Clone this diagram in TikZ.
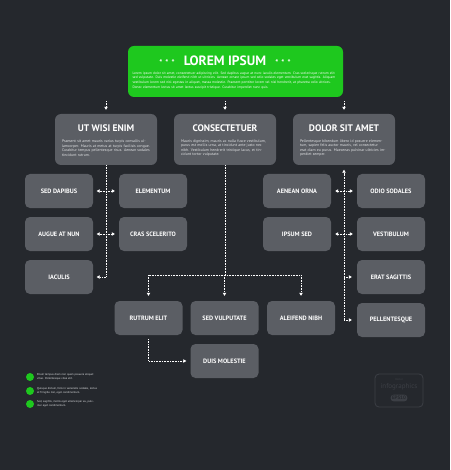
\documentclass[tikz,border=0pt]{standalone}
\usepackage{fontspec}
\setmainfont{PT Sans}
\usetikzlibrary{arrows.meta}
\definecolor{bgdark}{HTML}{25282D}
\definecolor{boxgray}{HTML}{5B5E64}
\definecolor{leafgreen}{HTML}{1EC81E}
\definecolor{bodygray}{HTML}{E4E5E7}
\definecolor{badgegray}{HTML}{3C3F45}
\begin{document}
\begin{tikzpicture}[x=1pt,y=-1pt,
  topbox/.style={fill=leafgreen,rounded corners=6pt,minimum width=215pt,minimum height=51pt,inner sep=0pt},
  bigbox/.style={fill=boxgray,rounded corners=6pt,minimum width=102pt,minimum height=51pt,inner sep=0pt},
  box/.style={fill=boxgray,rounded corners=5pt,minimum width=68pt,minimum height=34pt,inner sep=0pt,
    text=white,font=\bfseries\fontsize{6.3}{7}\selectfont},
  head/.style={text=white,inner sep=0pt,font=\bfseries\fontsize{9.5}{10}\selectfont},
  body/.style={text=bodygray,inner sep=0pt,align=left,font=\fontsize{3.8}{4.6}\selectfont},
  note/.style={text=bodygray,inner sep=0pt,align=left,anchor=west,text width=60pt,font=\fontsize{2.8}{3.5}\selectfont},
  stars/.style={inner sep=0pt,text=white,font=\bfseries\fontsize{8}{8}\selectfont},
  conn/.style={white,line width=0.8pt,dash pattern=on 0.8pt off 0.8pt},
  tip/.style={-{Triangle[width=3.4pt,length=3pt]}},
  tips/.style={{Triangle[width=3.4pt,length=3pt]}-{Triangle[width=3.4pt,length=3pt]}}]
  \fill[bgdark] (0,0) rectangle (450,470);

  \node[topbox] (lorem) at (235.5,71.5) {};
  \node[text=white,inner sep=0pt,font=\bfseries\fontsize{13.5}{14}\selectfont] (title) at (225,61) {LOREM IPSUM};
  \node[stars] (starl) at (167,62.5) {*\hspace{3pt}*\hspace{3pt}*};
  \node[stars] (starr) at (283,62.5) {*\hspace{3pt}*\hspace{3pt}*};
  \node[body,text=white,text width=206pt,font=\fontsize{3.5}{4.8}\selectfont] (intro) at (235.5,80.5)
    {Lorem ipsum dolor sit amet, consectetuer adipiscing elit. Sed dapibus augue at nunc iaculis elementum. Cras scelerisque rutrum elit sed vulputate. Duis molestie eleifend nibh ut ultricies. Aenean ornare ipsum sed odio sodales eget vestibulum erat sagittis. Aliquam vestibulum lorem sed nisl egestas in aliquet, massa molestie. Praesent porttitor lorem vel nisl hendrerit, at pharetra odio ultrices. Donec elementum lectus sit amet lectus suscipit tristique. Curabitur imperdiet nunc quis.};

  \node[bigbox] (ut) at (106,139.5) {};
  \node[bigbox] (cons) at (225,139.5) {};
  \node[bigbox] (dolor) at (344,139.5) {};
  \node[head] at (106,128) {UT WISI ENIM};
  \node[head] at (225,128) {CONSECTETUER};
  \node[head] at (344,128) {DOLOR SIT AMET};
  \node[body,text width=88pt] at (106,148)
    {Praesent sit amet mauris varius turpis convallis ullamcorper. Mauris at metus at turpis facilisis congue. Curabitur tempus pellentesque risus. Aenean sodales tincidunt rutrum.};
  \node[body,text width=88pt] at (225,148)
    {Mauris dignissim, mauris ac nulla fusce vestibulum, purus est mollis urna, at tincidunt ante justo nec nibh. Vestibulum hendrerit tristique lacus, et tincidunt tortor vulputate.};
  \node[body,text width=88pt] at (344,148)
    {Pellentesque bibendum libero id posuere elementum, sapien felis auctor mauris, vel consectetur erat diam eu purus. Maecenas pulvinar ultricies imperdiet semper.};

  \node[box] (sed) at (59,191) {SED DAPIBUS};
  \node[box] (aug) at (59,234) {AUGUE AT NUN};
  \node[box] (iac) at (59,277) {IACULIS};
  \node[box] (elem) at (153,191) {ELEMENTUM};
  \node[box] (cras) at (153,234) {CRAS SCELERITO};
  \node[box] (aen) at (297,191) {AENEAN ORNA};
  \node[box] (ips) at (297,234) {IPSUM SED};
  \node[box] (odio) at (391,191) {ODIO SODALES};
  \node[box] (vest) at (391,234) {VESTIBULUM};
  \node[box] (erat) at (391,277) {ERAT SAGITTIS};
  \node[box] (pel) at (391,320) {PELLENTESQUE};
  \node[box] (rut) at (148.5,318) {RUTRUM ELIT};
  \node[box] (vul) at (224.5,318) {SED VULPUTATE};
  \node[box] (ale) at (301,318) {ALEIFEND NIBH};
  \node[box] (duis) at (224.5,361) {DUIS MOLESTIE};

  \draw[conn,tip,shorten <=4pt,shorten >=4pt] (lorem.south -| ut) -- (ut.north);
  \draw[conn,tip,shorten <=4pt,shorten >=4pt] (lorem.south -| cons) -- (cons.north);
  \draw[conn,tip,shorten <=4pt,shorten >=4pt] (lorem.south -| dolor) -- (dolor.north);

  \draw[conn] (ut.south) -- (ut.south |- iac.east);
  \draw[conn,tips,shorten <=3.5pt,shorten >=4pt] (sed.east) -- (elem.west);
  \draw[conn,tips,shorten <=3.5pt,shorten >=4pt] (aug.east) -- (cras.west);
  \draw[conn,tip,shorten >=3.5pt] (ut.south |- iac.east) -- (iac.east);

  \draw[conn,tip,shorten >=4.5pt] (dolor.south |- pel.west) -- (dolor.south);
  \draw[conn,tips,shorten <=4pt,shorten >=4pt] (aen.east) -- (odio.west);
  \draw[conn,tips,shorten <=4pt,shorten >=4pt] (ips.east) -- (vest.west);
  \draw[conn,tip,shorten >=5pt] (dolor.south |- erat.west) -- (erat.west);
  \draw[conn,tip,shorten >=5pt] (dolor.south |- pel.west) -- (pel.west);

  \coordinate (split) at (225,275);
  \draw[conn] (cons.south) -- (split);
  \draw[conn] (split -| rut) -- (split -| ale);
  \draw[conn,tip,shorten >=5pt] (split -| rut) -- (rut.north);
  \draw[conn,tip,shorten >=5pt] (split -| vul) -- (vul.north);
  \draw[conn,tip,shorten >=5pt] (split -| ale) -- (ale.north);
  \draw[conn,tip,shorten <=4pt,shorten >=4pt] (rut.south) |- (duis.west);

  \fill[leafgreen] (30,377) circle (4);
  \fill[leafgreen] (30,391) circle (4);
  \fill[leafgreen] (30,404) circle (4);
  \node[note] (n1) at (37,377) {Etiam tempus diam non quam posuere aliquet vitae. Pellentesque vitae elit.};
  \node[note] (n2) at (37,391) {Quisque dictum, felis in venenatis sodales, lectus at fringilla nisl, eget condimentum.};
  \node[note] (n3) at (37,404) {Sed, sagittis, mollis eget ullamcorper eu, pulvinar eget condimentum.};

  \draw[badgegray,line width=0.8pt,rounded corners=4pt] (375,374) rectangle (423,407);
  \node[text=badgegray,inner sep=0pt,font=\fontsize{3}{3}\selectfont] (vec) at (399,379) {Vector};
  \node[text=badgegray,inner sep=0pt,font=\fontsize{7}{7}\selectfont] (info) at (399,387) {infographics};
  \node[fill=badgegray,rounded corners=3pt,text=bgdark,inner sep=1.5pt,font=\bfseries\fontsize{5}{5}\selectfont] (eps) at (399,398) {EPS10};
\end{tikzpicture}
\end{document}
